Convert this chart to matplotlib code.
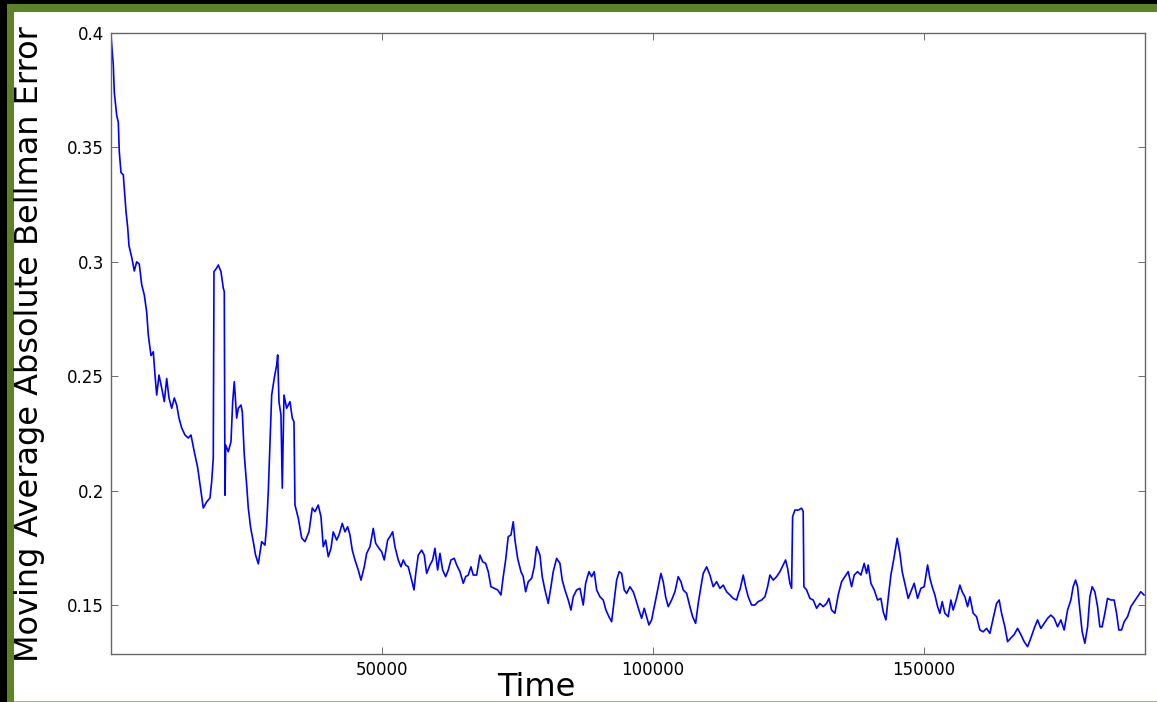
import matplotlib
matplotlib.use("Agg")
import matplotlib.pyplot as plt
from matplotlib.patches import Rectangle
from matplotlib.ticker import FixedLocator, FuncFormatter

# ---- data (time step, moving-average absolute Bellman error)
time_steps = [
    0, 424, 609, 1052, 1347, 1531, 1845, 2269, 2454, 2768, 3081, 3321, 3819, 4299, 4742,
    5221, 5664, 6144, 6587, 6882, 7380, 7804, 8118, 8432, 8856, 9354, 9834, 10277, 10701,
    11199, 11679, 12122, 12546, 13044, 13653, 14262, 14760, 15369, 15996, 16605, 17029,
    17657, 18266, 18579, 18874, 19004, 19502, 19797, 20295, 20719, 20904, 21033, 21162,
    21642, 22140, 22454, 22749, 23192, 23487, 23985, 24225, 24594, 25037, 25332, 25775,
    26254, 26660, 27177, 27804, 28413, 28727, 29022, 29336, 29649, 30129, 30572, 30757,
    30996, 31365, 31605, 31919, 32417, 33026, 33450, 33764, 33948, 34557, 35184, 35793,
    36531, 37140,
    37638, 38247, 38745, 39170, 39612, 40092, 40590, 41014, 41642, 42066, 42675, 43173,
    43671, 44096, 44520, 45018, 45627, 46125, 46734, 47177, 47786, 48394, 48837, 49446,
    49944, 50424, 51051, 51476, 51974, 52398, 53007, 53505, 53929, 54372, 54852, 55479,
    55904, 56273, 56697, 57324, 57804, 58247, 58856, 59354, 59778, 60276, 60701, 61199,
    61752, 62232, 62730, 63339, 63782, 64391, 64999, 65442, 65922, 66420, 66844, 67472,
    68081, 68579, 69132, 69612, 70110, 70719, 71346, 71955, 72379, 72822, 73302, 73800,
    74224, 74538, 75036, 75645, 76069, 76512,
    76992, 77619, 78099, 78542, 79151, 79575, 80073, 80682, 81180, 81604, 82232, 82841,
    83265, 83763, 84372, 84870, 85294, 85922, 86531, 87139, 87582, 88191, 88689, 89169,
    89612, 90221, 90829, 91328, 91881, 92379, 92859, 93302, 93782, 94225, 94704, 95147,
    95756, 96364, 96863, 97416, 97914, 98394, 98837, 99261, 99759, 100368, 100977, 101475,
    101899, 102342, 102822, 103449, 104058, 104667, 105165, 105589, 106217, 106826, 107324,
    107877, 108357, 108855, 109279, 109907, 110516, 111124, 111752, 112361, 112969, 113597,
    114206, 114814, 115442, 115866,
    116051, 116660, 117102, 117582, 118209, 118818, 119427, 120054, 120663, 121161, 121586,
    122194, 122822, 123431, 124039, 124482, 124851, 125276, 125589, 125774, 126198, 126807,
    127434, 127729, 127859, 128357, 128966, 129574, 130202, 130811, 131419, 132047, 132471,
    132969, 133578, 134187, 134814, 135423, 136032, 136659, 137139, 137766, 138375, 138984,
    139427, 139722, 140220, 140829, 141456, 142065, 142489, 142988, 143412, 143910, 144519,
    145072, 145571, 145995, 146622, 147102, 147729, 148209, 148836, 149445, 150054, 150681,
    151106, 151530, 152028, 152526, 152951, 153375, 153873,
    154482, 154980, 155404, 156032, 156641, 157065, 157563, 158061, 158486, 159094, 159722,
    160331, 160939, 161567, 162176, 162784, 163412, 163891, 164334, 164943, 165441, 166050,
    166659, 167286, 167895, 168504, 169131, 169740, 170349, 170976, 171585, 172194, 172821,
    173430, 174039, 174666, 175275, 175884, 176511, 177120, 177544, 177987, 178356, 178781,
    179205, 179703, 180201, 180626, 181050, 181548, 182046, 182471, 182894, 183393, 183891,
    184500, 185109, 185552, 185976, 186474, 186954, 187581, 188190, 188799, 189408, 190017,
    190626,
]
error_values = [
    0.399, 0.386, 0.374, 0.364, 0.361, 0.348, 0.339, 0.338, 0.332, 0.322, 0.315, 0.307,
    0.302, 0.296, 0.300, 0.299, 0.290, 0.2855, 0.278, 0.268, 0.259, 0.2607, 0.2505, 0.2418,
    0.2505, 0.2448, 0.2389, 0.249, 0.2405, 0.236, 0.2405, 0.2374, 0.2317, 0.2274, 0.2243,
    0.223, 0.2243, 0.217, 0.210, 0.1995, 0.1924, 0.1951, 0.1968, 0.204, 0.2143, 0.2957,
    0.2973, 0.2986, 0.2957, 0.2885, 0.287, 0.198, 0.2199, 0.217, 0.2214, 0.2389, 0.2476,
    0.2317, 0.236, 0.2374, 0.2345, 0.2156, 0.2024, 0.1924, 0.1837, 0.1777, 0.172, 0.168,
    0.1777, 0.1762, 0.185, 0.1995, 0.2214, 0.2418, 0.2492, 0.2549, 0.2593, 0.2389, 0.233,
    0.2011, 0.2418, 0.236, 0.2389, 0.2317, 0.2301, 0.1937, 0.188, 0.1793, 0.1777, 0.182,
    0.1924,
    0.1908, 0.1937, 0.1886, 0.1755, 0.1784, 0.1711, 0.1748, 0.182, 0.1784, 0.1806, 0.1857,
    0.182, 0.1842, 0.1806, 0.174, 0.1697, 0.1653, 0.1609, 0.1667, 0.1726, 0.1755, 0.1835,
    0.177, 0.1748, 0.1733, 0.1697, 0.1784, 0.1799, 0.182, 0.1755, 0.1697, 0.1667, 0.1697,
    0.1675, 0.1667, 0.1609, 0.1566, 0.1646, 0.1718, 0.174, 0.1718, 0.1638, 0.1675, 0.1697,
    0.1748, 0.1653, 0.1726, 0.1653, 0.1624, 0.1653, 0.1697, 0.1704, 0.1675, 0.1646, 0.1595,
    0.1624, 0.1631, 0.1667, 0.1631, 0.1631, 0.1718, 0.1689, 0.1682, 0.1646, 0.158, 0.1573,
    0.1566, 0.1544, 0.1624, 0.1697, 0.1799, 0.1806, 0.1864, 0.1784, 0.1704, 0.1646, 0.1624,
    0.1558,
    0.1602, 0.1617, 0.1667, 0.1755, 0.1718, 0.1624, 0.1566, 0.1507, 0.158, 0.1646, 0.1704,
    0.1682, 0.1609, 0.1566, 0.1522, 0.1478, 0.1536, 0.1566, 0.1573, 0.150, 0.1595, 0.1646,
    0.1624, 0.1646, 0.1566, 0.1536, 0.1522, 0.1478, 0.1449, 0.1427, 0.1522, 0.1609, 0.1646,
    0.1638, 0.1566, 0.1551, 0.158, 0.1558, 0.1522, 0.1478, 0.1442, 0.1486, 0.1449, 0.1413,
    0.1435, 0.1507, 0.158, 0.1638, 0.1602, 0.1536, 0.1493, 0.1522, 0.1558, 0.1624, 0.1602,
    0.1566, 0.1551, 0.1493, 0.1449, 0.142, 0.1507, 0.158, 0.1638, 0.1667, 0.1631, 0.158,
    0.1602, 0.1573, 0.1587, 0.1558, 0.1544, 0.1529, 0.1522, 0.1558,
    0.1566, 0.1631, 0.158, 0.1536, 0.150, 0.150, 0.1515, 0.1522, 0.1536, 0.158, 0.1631,
    0.1609, 0.1624, 0.1646, 0.1675, 0.1697, 0.166, 0.1595, 0.1573, 0.1886, 0.1915, 0.1915,
    0.1923, 0.1908, 0.158, 0.1566, 0.1529, 0.1522, 0.1486, 0.1507, 0.1493, 0.1507, 0.1529,
    0.1478, 0.1464, 0.1544, 0.1602, 0.1624, 0.1646, 0.158, 0.1631, 0.1646, 0.1631, 0.1682,
    0.1638, 0.1675, 0.1595, 0.1566, 0.1522, 0.1529, 0.1471, 0.1435, 0.1529, 0.1631, 0.1711,
    0.1792, 0.1726, 0.1646, 0.158, 0.1529, 0.1566, 0.1595, 0.1529, 0.1573, 0.158, 0.1675,
    0.1617, 0.158, 0.1544, 0.1493, 0.1464, 0.1515, 0.1464,
    0.1449, 0.1522, 0.1478, 0.1529, 0.1587, 0.1558, 0.1536, 0.1493, 0.1536, 0.1464, 0.1449,
    0.1391, 0.1383, 0.1398, 0.1376, 0.1442, 0.1507, 0.1522, 0.1464, 0.1405, 0.134, 0.1356,
    0.1371, 0.1398, 0.1371, 0.134, 0.1318, 0.1356, 0.1398, 0.1435, 0.1398, 0.142, 0.1442,
    0.1456, 0.1442, 0.1405, 0.1435, 0.1391, 0.1478, 0.1522, 0.158, 0.1609, 0.158, 0.1478,
    0.1383, 0.1333, 0.1405, 0.1536, 0.158, 0.1558, 0.1493, 0.1405, 0.1405, 0.1464, 0.1529,
    0.1522, 0.1522, 0.1464, 0.1391, 0.1391, 0.1427, 0.1449, 0.1493, 0.1515, 0.1536, 0.1558,
    0.1544,
]
x_ticks = [50000, 100000, 150000]
y_ticks = [0.15, 0.2, 0.25, 0.3, 0.35, 0.4]
x_limits = (0, 190800)
y_limits = (0.1286, 0.4)

W, H = 1157, 702
fig = plt.figure(figsize=(W / 100, H / 100), dpi=100)
fig.patch.set_facecolor("white")

# decorative frame (black + green border around the screenshot)
green = "#5c8427"
fig.patches.append(Rectangle((0, 1 - 4 / H), 1, 4 / H, transform=fig.transFigure,
                             facecolor="black", edgecolor="none", zorder=0))
fig.patches.append(Rectangle((0, 0), 7 / W, 1, transform=fig.transFigure,
                             facecolor="black", edgecolor="none", zorder=0))
fig.patches.append(Rectangle((7 / W, 1 - 12 / H), 1 - 7 / W, 8 / H, transform=fig.transFigure,
                             facecolor=green, edgecolor="none", zorder=0))
fig.patches.append(Rectangle((7 / W, 0), 7 / W, 1 - 4 / H, transform=fig.transFigure,
                             facecolor=green, edgecolor="none", zorder=0))
fig.patches.append(Rectangle((14 / W, 0), 1 - 14 / W, 1.5 / H, transform=fig.transFigure,
                             facecolor="#9db585", edgecolor="none", zorder=0))

ax = fig.add_axes([111 / W, 1 - 654 / H, (1145 - 111) / W, (654 - 33) / H])
ax.plot(time_steps, error_values, color="#0000ff", linewidth=1.2)

ax.set_xlim(*x_limits)
ax.set_ylim(*y_limits)
ax.xaxis.set_major_locator(FixedLocator(x_ticks))
ax.yaxis.set_major_locator(FixedLocator(y_ticks))
ax.yaxis.set_major_formatter(FuncFormatter(lambda v, p: "%g" % v))
ax.xaxis.set_major_formatter(FuncFormatter(lambda v, p: "%d" % v))
ax.tick_params(direction="in", length=5, width=0.6, color="#555555",
               labelsize=12, pad=5, top=True, right=True)
for s in ax.spines.values():
    s.set_color("#666666")
    s.set_linewidth(1.0)

fig.text(30 / W, 1 - 344 / H, "Moving Average Absolute Bellman Error", rotation=90,
         ha="center", va="center", fontsize=23)
fig.text(536 / W, 1 - 696 / H, "Time", ha="center", va="baseline", fontsize=23)

fig.savefig("out.png", dpi=100)
